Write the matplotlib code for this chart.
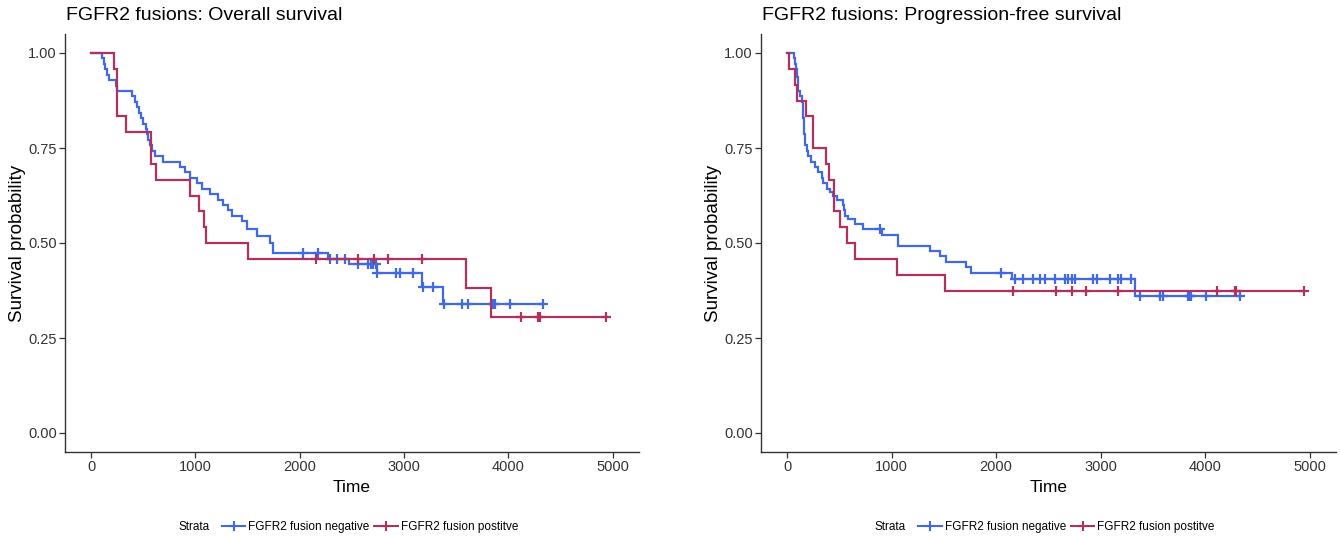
import numpy as np
import matplotlib
matplotlib.use("Agg")
from matplotlib import pyplot as plt
from matplotlib.lines import Line2D

plt.rcParams["font.family"] = ["Liberation Sans", "DejaVu Sans"]

# Kaplan-Meier step values (time in days, survival after the drop)
# Overall survival, FGFR2 fusion negative
os_neg_t = [106, 120, 135, 150, 170, 242, 246, 388, 419, 436, 458, 477, 499, 522,
            540, 547, 563, 580, 611, 691, 851, 899, 947, 1012, 1060, 1139, 1219,
            1267, 1315, 1347, 1443, 1491, 1587, 1715, 1747, 2269, 2476, 2739,
            3171, 3372]
os_neg_s = [0.986, 0.971, 0.957, 0.943, 0.929, 0.914, 0.900, 0.886, 0.871, 0.857,
            0.843, 0.829, 0.814, 0.800, 0.786, 0.771, 0.757, 0.743, 0.729, 0.714,
            0.700, 0.686, 0.671, 0.657, 0.643, 0.629, 0.614, 0.600, 0.586, 0.571,
            0.557, 0.536, 0.518, 0.500, 0.475, 0.459, 0.444, 0.420, 0.384, 0.340]
os_neg_cens = [2035, 2179, 2290, 2355, 2435, 2562, 2658, 2681, 2706, 2732, 2745,
               2921, 2963, 3085, 3186, 3276, 3380, 3554, 3618, 3852, 3868, 4018,
               4332]

# Overall survival, FGFR2 fusion positive
os_pos_t = [222, 247, 336, 570, 618, 949, 1031, 1079, 1103, 1507, 3599, 3838]
os_pos_s = [0.958, 0.833, 0.792, 0.708, 0.667, 0.625, 0.583, 0.542, 0.500,
            0.458, 0.382, 0.305]
os_pos_cens = [2156, 2562, 2716, 2850, 3171, 4120, 4282, 4302, 4940]

# Progression-free survival, FGFR2 fusion negative
pfs_neg_t = [70, 76, 84, 93, 100, 108, 124, 140, 150, 154, 156, 159, 161, 164,
             167, 172, 188, 204, 230, 268, 299, 331, 347, 379, 411, 443, 475,
             539, 547, 555, 586, 650, 730, 905, 1064, 1367, 1463, 1520, 1711,
             1756, 2148, 3327]
pfs_neg_s = [0.986, 0.971, 0.957, 0.936, 0.921, 0.900, 0.886, 0.871, 0.857,
             0.843, 0.829, 0.814, 0.800, 0.786, 0.771, 0.757, 0.743, 0.729,
             0.714, 0.700, 0.686, 0.671, 0.657, 0.643, 0.633, 0.625, 0.614,
             0.600, 0.586, 0.571, 0.562, 0.550, 0.536, 0.522, 0.493, 0.479,
             0.465, 0.450, 0.436, 0.422, 0.405, 0.360]
pfs_neg_cens = [889, 2043, 2180, 2259, 2355, 2419, 2467, 2562, 2658, 2689, 2722,
                2753, 2928, 2961, 3088, 3168, 3200, 3289, 3375, 3566, 3598, 3837,
                3853, 3869, 4006, 4331]

# Progression-free survival, FGFR2 fusion positive
pfs_pos_t = [22, 76, 99, 179, 252, 370, 402, 449, 507, 577, 650, 1049, 1511]
pfs_pos_s = [0.958, 0.917, 0.875, 0.833, 0.750, 0.708, 0.667, 0.583, 0.542,
             0.500, 0.458, 0.417, 0.375]
pfs_pos_cens = [2164, 2569, 2722, 2859, 3167, 4114, 4283, 4299, 4943]

titles = ["FGFR2 fusions: Overall survival",
          "FGFR2 fusions: Progression-free survival"]
strata = ["FGFR2 fusion negative", "FGFR2 fusion postitve"]
colors = ["royalblue", "#B03060"]

W, H = 1340, 537
fig = plt.figure(figsize=(W / 100, H / 100), dpi=100)
axes_px = [(65, 639), (761, 1336)]
top_px, bot_px = 34, 452


def draw_curve(ax, t, s, cens, color):
    t = np.concatenate([[0], t])
    s = np.concatenate([[1.0], s])
    end = max(max(cens), t[-1])
    tt = np.append(t, end)
    ss = np.append(s, s[-1])
    ax.step(tt, ss, where="post", color=color, lw=1.6, solid_joinstyle="miter")
    idx = np.searchsorted(t, cens, side="right") - 1
    ax.plot(cens, s[idx], ls="none", marker="+", ms=7.5, mew=1.6, color=color)


panels = [
    [(os_neg_t, os_neg_s, os_neg_cens), (os_pos_t, os_pos_s, os_pos_cens)],
    [(pfs_neg_t, pfs_neg_s, pfs_neg_cens), (pfs_pos_t, pfs_pos_s, pfs_pos_cens)],
]

for k, (x0, x1) in enumerate(axes_px):
    ax = fig.add_axes([x0 / W, (H - bot_px) / H, (x1 - x0) / W, (bot_px - top_px) / H])
    for (t, s, c), col in zip(panels[k], colors):
        draw_curve(ax, t, s, c, col)
    ax.set_xlim(-250, 5253)
    ax.set_ylim(-0.05, 1.05)
    ax.set_xticks([0, 1000, 2000, 3000, 4000, 5000])
    ax.set_yticks([0, 0.25, 0.5, 0.75, 1.0])
    ax.set_yticklabels(["0.00", "0.25", "0.50", "0.75", "1.00"])
    for side in ["top", "right"]:
        ax.spines[side].set_visible(False)
    for side in ["left", "bottom"]:
        ax.spines[side].set_color("#333333")
        ax.spines[side].set_linewidth(1.0)
    ax.tick_params(length=4, width=0.9, color="#333333", labelsize=10.5,
                   labelcolor="#333333", pad=2)
    ax.set_xlabel("Time", fontsize=12.5)
    ax.xaxis.label.set_va("center")
    ax.xaxis.set_label_coords(0.5, -0.084)
    ax.set_ylabel("Survival probability", fontsize=13.5)
    ax.yaxis.label.set_va("center")
    ax.yaxis.set_label_coords((18 + (k * 696) - x0) / (x1 - x0), 0.5)
    fig.text(x0 / W + 0.001, 1 - 15 / H, titles[k], fontsize=14, va="center", ha="left")

    # legend row under each panel
    cx = (x0 + x1) / 2
    handles = [Line2D([], [], color=c, lw=1.5, marker="+", ms=7, mew=1.5) for c in colors]
    fig.legend(handles, strata, loc="center", ncol=2, frameon=False, fontsize=8.5,
               bbox_to_anchor=((cx + 18) / W, 1 - 527 / H), handlelength=2.0,
               handletextpad=0.25, columnspacing=0.4, borderpad=0)
    fig.text((cx - 174) / W, 1 - 527 / H, "Strata", fontsize=8.5, va="center", ha="left")

fig.savefig("out.png", dpi=100)
